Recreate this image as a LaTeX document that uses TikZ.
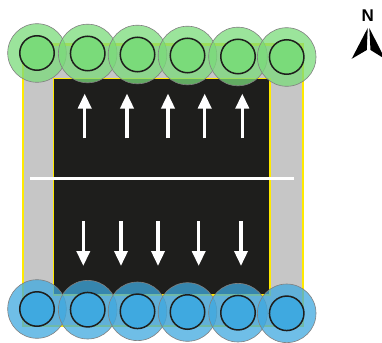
\documentclass[tikz,border=0pt]{standalone}
\usepackage{fontspec}
\setmainfont{Liberation Sans}
\usetikzlibrary{arrows.meta}
\definecolor{asphalt}{HTML}{1E1E1C}
\definecolor{walk}{HTML}{C6C6C6}
\definecolor{edgeyellow}{HTML}{FFEA00}
\definecolor{treegreen}{HTML}{7ADB7A}
\definecolor{treeblue}{HTML}{3FA9E0}
\tikzset{x=1pt,y=-1pt,
  canopy/.style={circle,draw=black!50,line width=0.6pt,fill opacity=0.75,minimum size=58.6pt,inner sep=0pt},
  trunk/.style={circle,draw=asphalt,line width=1.5pt,minimum size=34.5pt,inner sep=0pt},
  lane/.style={draw=white,line width=3.5pt,-{Triangle[length=15pt,width=13pt]}},
}
\begin{document}
\begin{tikzpicture}
\useasboundingbox (0,0) rectangle (382,342);
\fill[white] (0,0) rectangle (382,342);
\path[fill=walk,draw=edgeyellow,line width=2.2pt] (23,44.5) rectangle (303.3,326);
\path[fill=asphalt,draw=edgeyellow,line width=1.6pt] (53.4,78.4) rectangle (269.7,295);
\node[draw=none,inner sep=0pt,minimum width=264pt,minimum height=3pt,fill=white] (mid) at (162,178) {};
\foreach \n/\x in {u1/84.7,u2/127,u3/168,u4/204.7,u5/242.3}{
  \coordinate (\n a) at (\x,138.3); \coordinate (\n b) at (\x,93.5);
  \draw[lane] (\n a) -- (\n b);}
\foreach \n/\x in {d1/83.3,d2/121,d3/158,d4/198.7,d5/241}{
  \coordinate (\n a) at (\x,221); \coordinate (\n b) at (\x,266);
  \draw[lane] (\n a) -- (\n b);}
\foreach \n/\x/\y in {a/37/53,b/87.7/53.5,c/137.5/54.5,d/187.5/55.5,e/238/56.5,f/286.7/57}{
  \node[canopy,fill=treegreen] (g\n) at (\x,\y) {};
  \node[trunk,fill=treegreen] (h\n) at (\x,\y) {};}
\foreach \n/\x/\y in {a/37/309,b/87.7/309.7,c/137.5/311.3,d/187.5/312,e/238/312.7,f/286.7/313.3}{
  \node[canopy,fill=treeblue] (p\n) at (\x,\y) {};
  \node[trunk,fill=treeblue] (q\n) at (\x,\y) {};}
\node[font=\fontsize{17}{17}\selectfont\bfseries,inner sep=0pt] (north) at (367.7,15.5) {N};
\fill[black] (367.7,28) -- (351.7,58.8) -- (366.8,50) -- cycle;
\fill[black] (369.3,28) -- (385,59) -- (370.5,50) -- cycle;
\end{tikzpicture}
\end{document}
